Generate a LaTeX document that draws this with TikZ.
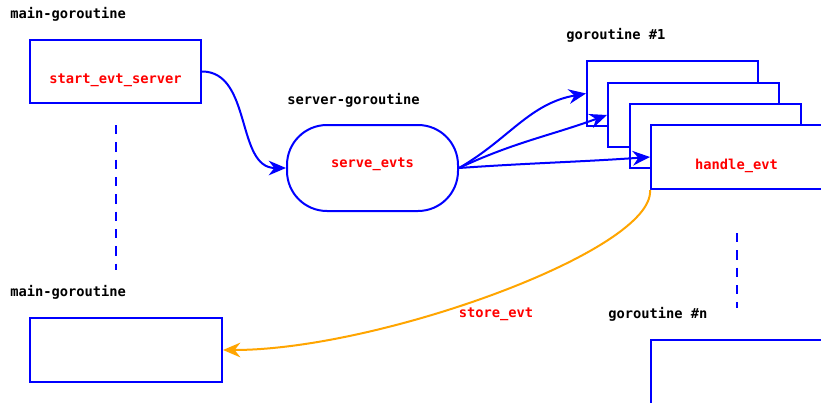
\documentclass[tikz,border=0pt]{standalone}
\usepackage{fontspec}
\setmonofont{DejaVu Sans Mono}
\usetikzlibrary{arrows.meta}
\definecolor{goorange}{RGB}{255,165,0}
\tikzset{
  gobox/.style={draw=blue, line width=1.5pt, minimum width=128.25pt, minimum height=48pt, inner sep=0pt, fill=white},
  fname/.style={text=red, font=\ttfamily\bfseries\fontsize{10.3}{12}\selectfont},
  lowtext/.style={text height=21pt, text depth=2.5pt},
  hightext/.style={text height=7.6pt, text depth=9pt},
  golabel/.style={anchor=west, inner sep=0pt, font=\ttfamily\bfseries\fontsize{10.3}{12}\selectfont},
  call/.style={draw=blue, line width=1.5pt, -{Stealth[length=13pt,width=11pt]}},
  ret/.style={draw=goorange, line width=1.5pt, -{Stealth[length=13pt,width=11pt]}},
  gap/.style={draw=blue, line width=1.5pt, dash pattern=on 7pt off 6pt}
}
\begin{document}
\begin{tikzpicture}[x=0.75pt,y=-0.75pt]
\clip (0,0) rectangle (821,403);
\fill[white] (0,0) rectangle (821,403);
\node[golabel] (lmain) at (10,14) {main-goroutine};
\node[gobox, fname, lowtext, minimum height=47.25pt] (start) at (115.5,71.5) {start\_evt\_server};
\node[golabel] (lmain2) at (10,292) {main-goroutine};
\node[gobox, minimum width=144pt] (store) at (126,350) {};
\node[golabel] (lserver) at (287,100) {server-goroutine};
\node[gobox, fname, hightext, minimum height=64.5pt, rounded corners=30pt] (serve) at (372.5,168) {serve\_evts};
\node[golabel] (lg1) at (566,35) {goroutine \#1};
\node[gobox] (h1) at (672.5,93.5) {};
\node[gobox] (h2) at (693.5,115) {};
\node[gobox] (h3) at (715.5,136) {};
\node[gobox, fname, lowtext] (h4) at (736.5,157) {handle\_evt};
\node[golabel] (lgn) at (608,314) {goroutine \#n};
\node[gobox] (hn) at (736.5,372) {};
\node[fname] (lstore) at (496,314) {store\_evt};
\coordinate (d1a) at (116,125); \coordinate (d1b) at (116,270);
\coordinate (d2a) at (737,233); \coordinate (d2b) at (737,308);
\draw[gap] (d1a) -- (d1b);
\draw[gap] (d2a) -- (d2b);
\draw[call] (start.east) to[out=0, in=180] (serve.west);
\draw[call] (serve.east) to[out=30, in=190] (h1.west);
\draw[call] (serve.east) to[out=25, in=200] (h2.west);
\draw[call] (serve.east) to[out=4, in=184] (h4.west);
\draw[ret] (h4.south west) .. controls (655,250) and (380,350) .. (store.east);
\end{tikzpicture}
\end{document}
